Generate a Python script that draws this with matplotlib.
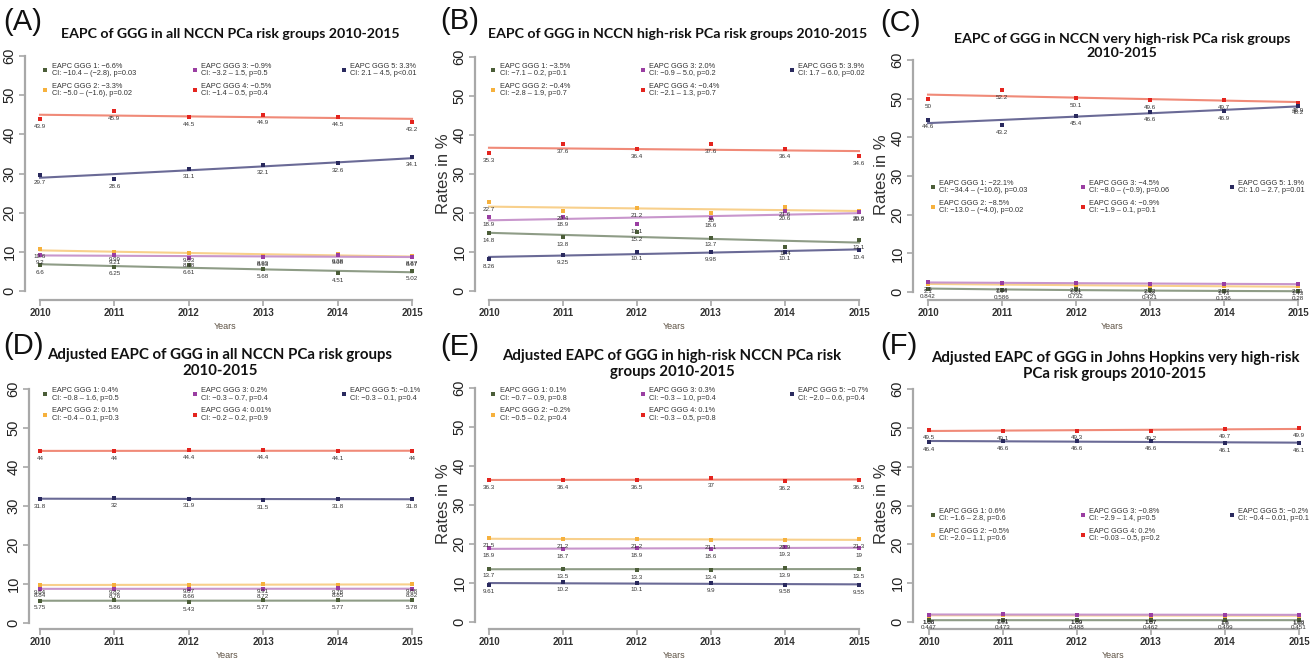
import matplotlib
matplotlib.use('Agg')
import matplotlib.pyplot as plt
from matplotlib.lines import Line2D
import numpy as np

W, H = 1314, 662

years = [2010, 2011, 2012, 2013, 2014, 2015]

# (A) all NCCN risk groups
a_ggg1 = [6.6, 6.25, 6.61, 5.68, 4.51, 5.02]
a_ggg2 = [10.6, 9.99, 9.63, 8.93, 9.38, 8.87]
a_ggg3 = [9.2, 9.21, 8.48, 8.63, 9.08, 8.67]
a_ggg4 = [43.9, 45.9, 44.5, 44.9, 44.5, 43.2]
a_ggg5 = [29.7, 28.6, 31.1, 32.1, 32.6, 34.1]
a_eapc = ['\u22126.6%', '\u22123.3%', '\u22120.9%', '\u22120.5%', '3.3%']
a_ci = ['\u221210.4 \u2013 (\u22122.8), p=0.03', '\u22125.0 \u2013 (\u22121.6), p=0.02',
        '\u22123.2 \u2013 1.5, p=0.5', '\u22121.4 \u2013 0.5, p=0.4', '2.1 \u2013 4.5, p<0.01']

# (B) NCCN high-risk
b_ggg1 = [14.8, 13.8, 15.2, 13.7, 11.4, 13.1]
b_ggg2 = [22.7, 20.4, 21.2, 20.0, 21.6, 20.6]
b_ggg3 = [18.9, 18.9, 17.1, 18.6, 20.6, 20.2]
b_ggg4 = [35.3, 37.6, 36.4, 37.6, 36.4, 34.6]
b_ggg5 = [8.26, 9.25, 10.1, 9.98, 10.1, 10.4]
b_eapc = ['\u22123.5%', '\u22120.4%', '2.0%', '\u22120.4%', '3.9%']
b_ci = ['\u22127.1 \u2013 0.2, p=0.1', '\u22122.8 \u2013 1.9, p=0.7', '\u22120.9 \u2013 5.0, p=0.2',
        '\u22122.1 \u2013 1.3, p=0.7', '1.7 \u2013 6.0, p=0.02']

# (C) NCCN very high-risk
c_ggg1 = [0.842, 0.586, 0.732, 0.421, 0.136, 0.28]
c_ggg2 = [2.1, 1.94, 1.81, 1.52, 1.43, 1.43]
c_ggg3 = [2.6, 2.24, 2.31, 2.12, 2.07, 2.11]
c_ggg4 = [50, 52.2, 50.1, 49.6, 49.7, 48.9]
c_ggg5 = [44.6, 43.2, 45.4, 46.6, 46.9, 48.2]
c_eapc = ['\u221222.1%', '\u22128.5%', '\u22124.5%', '\u22120.9%', '1.9%']
c_ci = ['\u221234.4 \u2013 (\u221210.6), p=0.03', '\u221213.0 \u2013 (\u22124.0), p=0.02',
        '\u22128.0 \u2013 (\u22120.9), p=0.06', '\u22121.9 \u2013 0.1, p=0.1', '1.0 \u2013 2.7, p=0.01']

# (D) adjusted, all NCCN
d_ggg1 = [5.75, 5.86, 5.43, 5.77, 5.77, 5.78]
d_ggg2 = [9.64, 9.82, 9.87, 9.91, 9.78, 9.88]
d_ggg3 = [8.84, 8.76, 8.66, 8.72, 8.85, 8.82]
d_ggg4 = [44, 44, 44.4, 44.4, 44.1, 44]
d_ggg5 = [31.8, 32, 31.9, 31.5, 31.8, 31.8]
d_eapc = ['0.4%', '0.1%', '0.2%', '0.01%', '\u22120.1%']
d_ci = ['\u22120.8 \u2013 1.6, p=0.5', '\u22120.4 \u2013 0.1, p=0.3', '\u22120.3 \u2013 0.7, p=0.4',
        '\u22120.2 \u2013 0.2, p=0.9', '\u22120.3 \u2013 0.1, p=0.4']

# (E) adjusted, high-risk
e_ggg1 = [13.7, 13.5, 13.3, 13.4, 13.9, 13.5]
e_ggg2 = [21.5, 21.2, 21.2, 21.1, 20.9, 21.3]
e_ggg3 = [18.9, 18.7, 18.9, 18.6, 19.3, 19]
e_ggg4 = [36.3, 36.4, 36.5, 37, 36.2, 36.5]
e_ggg5 = [9.61, 10.2, 10.1, 9.9, 9.58, 9.55]
e_eapc = ['0.1%', '\u22120.2%', '0.3%', '0.1%', '\u22120.7%']
e_ci = ['\u22120.7 \u2013 0.9, p=0.8', '\u22120.5 \u2013 0.2, p=0.4', '\u22120.3 \u2013 1.0, p=0.4',
        '\u22120.3 \u2013 0.5, p=0.8', '\u22122.0 \u2013 0.6, p=0.4']

# (F) adjusted, Johns Hopkins very high-risk
f_ggg1 = [0.447, 0.473, 0.488, 0.462, 0.499, 0.451]
f_ggg2 = [1.66, 1.81, 1.69, 1.67, 1.6, 1.63]
f_ggg3 = [1.88, 2.01, 1.89, 1.87, 1.8, 1.88]
f_ggg4 = [49.5, 49.1, 49.3, 49.2, 49.7, 49.9]
f_ggg5 = [46.4, 46.6, 46.6, 46.6, 46.1, 46.1]
f_eapc = ['0.6%', '\u22120.5%', '\u22120.8%', '0.2%', '\u22120.2%']
f_ci = ['\u22121.6 \u2013 2.8, p=0.6', '\u22122.0 \u2013 1.1, p=0.6', '\u22122.9 \u2013 1.4, p=0.5',
        '\u22120.03 \u2013 0.5, p=0.2', '\u22120.4 \u2013 0.01, p=0.1']

point_colors = ['#4b5d38', '#f6b13d', '#9a3ea2', '#e4241e', '#2a2a5e']
line_colors = ['#8e9c86', '#f8d08c', '#c896cc', '#f08a78', '#6a6a96']

fig = plt.figure(figsize=(W / 100, H / 100), dpi=100)


def panel(series, eapc, ci, box, leg, title, title_xy, letter, letter_xy,
          ylabel=True, title_size=10.2):
    spine_x, spine_y, x2010, x2015, y0, y60 = box
    ppy = (x2015 - x2010) / 5.0
    ppu = (y0 - y60) / 60.0
    right = x2015 + 14
    top = y60 - 10
    ax = fig.add_axes([spine_x / W, 1 - spine_y / H,
                       (right - spine_x) / W, (spine_y - top) / H])
    ax.set_xlim(2010 - (x2010 - spine_x) / ppy, 2015 + 14 / ppy)
    ax.set_ylim(-(spine_y - y0) / ppu, 60 + 10 / ppu)

    # log-linear trend lines (EAPC fit) first, then the points
    yrs = np.array(years)
    for vals, lc in zip(series, line_colors):
        b, a = np.polyfit(yrs - 2010, np.log(vals), 1)
        ax.plot(yrs, np.exp(a + b * (yrs - 2010)), color=lc, lw=1.5, zorder=2)
    for vals, pc in zip(series, point_colors):
        ax.plot(years, vals, 's', color=pc, ms=3.2, mew=0, zorder=3)
        for x, v in zip(years, vals):
            ax.annotate(f'{v:g}', (x, v), xytext=(0, -3.5), textcoords='offset points',
                        ha='center', va='top', fontsize=4.5, color='#333333',
                        family='Liberation Sans', zorder=4)

    for s in ['top', 'right']:
        ax.spines[s].set_visible(False)
    for s in ['left', 'bottom']:
        ax.spines[s].set_color('#a8a8a8')
        ax.spines[s].set_linewidth(1.6)
    ax.spines['left'].set_bounds(0, 60)
    ax.spines['bottom'].set_bounds(2010, 2015)
    ax.set_xticks(years)
    ax.set_xticklabels([str(y) for y in years], fontsize=7, fontweight='bold',
                       color='#333333', family='Liberation Sans')
    ax.set_yticks(range(0, 61, 10))
    ax.set_yticklabels([str(t) for t in range(0, 61, 10)], rotation=90, va='center',
                       fontsize=10.5, color='#222222', family='Liberation Sans')
    ax.tick_params(colors='#a8a8a8', length=4, width=1.2, pad=2)
    ax.tick_params(axis='x', labelcolor='#333333', pad=1.5)
    ax.tick_params(axis='y', labelcolor='#222222')
    ax.set_xlabel('Years', fontsize=6.5, color='#5e5244', family='Liberation Sans', labelpad=3)
    if ylabel:
        ax.set_ylabel('Rates in %', fontsize=12, color='#333333', family='Liberation Sans',
                      labelpad=1)
    ax.patch.set_alpha(0)

    # legend: 3 columns, entries 1-2 / 3-4 / 5
    lx, ly = leg
    for i in range(5):
        col, row = i // 2, i % 2
        mx = lx + col * 149.5
        my = ly + row * 20
        fig.add_artist(Line2D([mx / W], [1 - my / H], marker='s', ms=2.8, mew=0,
                              color=point_colors[i], linestyle='none'))
        fig.text((mx + 6.5) / W, 1 - my / H, f'EAPC GGG {i + 1}: {eapc[i]}\nCI: {ci[i]}',
                 fontsize=5.3, color='#333333', family='Liberation Sans',
                 ha='left', va='center', linespacing=1.1)

    fig.text(title_xy[0] / W, 1 - title_xy[1] / H, title, fontsize=title_size,
             fontweight='bold', family='Lato', ha='center', va='center',
             linespacing=1.25, color='#111111')
    fig.text(letter_xy[0] / W, 1 - letter_xy[1] / H, letter, fontsize=21,
             family='Liberation Sans', ha='left', va='center', color='#111111')
    return ax


panel([a_ggg1, a_ggg2, a_ggg3, a_ggg4, a_ggg5], a_eapc, a_ci,
      (25, 300, 40, 412, 291, 56), (45, 70),
      'EAPC of GGG in all NCCN PCa risk groups 2010-2015', (230, 34),
      '(A)', (3, 22), ylabel=False)
panel([b_ggg1, b_ggg2, b_ggg3, b_ggg4, b_ggg5], b_eapc, b_ci,
      (475, 300, 489, 859, 291, 57), (493, 70),
      'EAPC of GGG in NCCN high-risk PCa risk groups 2010-2015', (678, 34),
      '(B)', (440, 21))
panel([c_ggg1, c_ggg2, c_ggg3, c_ggg4, c_ggg5], c_eapc, c_ci,
      (913, 300, 928, 1298, 292, 60), (933, 187),
      'EAPC of GGG in NCCN very high-risk PCa risk groups\n2010-2015', (1122, 46),
      '(C)', (880, 23))
panel([d_ggg1, d_ggg2, d_ggg3, d_ggg4, d_ggg5], d_eapc, d_ci,
      (29, 629, 40, 412, 623, 389), (45, 394.5),
      'Adjusted EAPC of GGG in all NCCN PCa risk groups\n2010-2015', (220, 363),
      '(D)', (3, 346), ylabel=False, title_size=10.8)
panel([e_ggg1, e_ggg2, e_ggg3, e_ggg4, e_ggg5], e_eapc, e_ci,
      (475, 629, 489, 859, 622, 388), (493, 394.5),
      'Adjusted EAPC of GGG in high-risk NCCN PCa risk\ngroups 2010-2015', (672, 364),
      '(E)', (440, 347), title_size=10.8)
panel([f_ggg1, f_ggg2, f_ggg3, f_ggg4, f_ggg5], f_eapc, f_ci,
      (913, 629, 929, 1299, 622, 389), (933, 515),
      'Adjusted EAPC of GGG in Johns Hopkins very high-risk\nPCa risk groups 2010-2015', (1115, 366),
      '(F)', (880, 346), title_size=10.8)

fig.savefig('out.png', dpi=100)
